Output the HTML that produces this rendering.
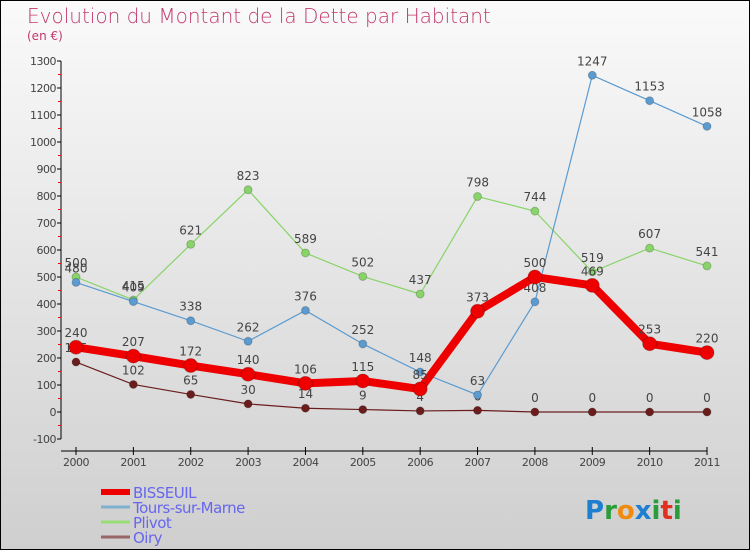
<!DOCTYPE html>
<html><head><meta charset="utf-8"><style>
body{margin:0;width:750px;height:550px;overflow:hidden}
#c{position:relative;width:748px;height:548px;border:1px solid #000;background:linear-gradient(#fafafa,#cfcfcf);font-family:"DejaVu Sans","Liberation Sans",sans-serif}
</style></head><body>
<div id="c">
<svg width="748" height="548" id="s">
<text x="26" y="22" font-size="20" fill="#c2396e" font-weight="300">Evolution du Montant de la Dette par Habitant</text>
<text x="26" y="39" font-size="12" fill="#c2396e">(en €)</text>
<g id="g"></g>
<text x="64" y="395" font-size="1" fill="none"></text>
</svg>
</div>
<script>
const years=["2000","2001","2002","2003","2004","2005","2006","2007","2008","2009","2010","2011"];
const bisseuil=[240,207,172,140,106,115,85,373,500,469,253,220];
const tours=[480,409,338,262,376,252,148,63,408,1247,1153,1058];
const plivot=[500,415,621,823,589,502,437,798,744,519,607,541];
const oiry=[185,102,65,30,14,9,4,6,0,0,0,0];
const yTicks=[-100,0,100,200,300,400,500,600,700,800,900,1000,1100,1200,1300];
const NS="http://www.w3.org/2000/svg",g=document.getElementById('g');
function X(i){return 75+i*(706-75)/11}
function Y(v){return 411-v*(411-60)/1300}
function el(t,a,txt){const e=document.createElementNS(NS,t);for(const k in a)e.setAttribute(k,a[k]);if(txt!==undefined)e.textContent=txt;g.appendChild(e);return e}
let e;
e=el('line',{x1:60,y1:Y(1300),x2:60,y2:Y(-100),stroke:'#000'});


e=el('line',{x1:60,y1:450,x2:706,y2:450,stroke:'#000'});


yTicks.forEach((v,i)=>{
 el('line',{x1:56,y1:Y(v),x2:60,y2:Y(v),stroke:'#000'});
 if(i<yTicks.length-1){e=el('line',{x1:57,y1:Y(v+50),x2:60,y2:Y(v+50),stroke:'#e00'});}
 e=el('text',{x:55,y:Y(v)+4,'font-size':11,fill:'#444','text-anchor':'end','letter-spacing':'-0.5'},v);
 
 
});
years.forEach((y,i)=>{
 el('line',{x1:X(i),y1:446,x2:X(i),y2:454,stroke:'#000'});
 e=el('text',{x:X(i),y:465,'font-size':11,fill:'#444','text-anchor':'middle','letter-spacing':'-0.5'},y);
 
 
});
function series(d,col,w,r,name){
 e=el('polyline',{points:d.map((v,i)=>X(i)+','+Y(v)).join(' '),fill:'none',stroke:col,'stroke-width':w});
 
 
 d.forEach((v,i)=>{
  e=el('circle',{cx:X(i),cy:Y(v),r:r,fill:col,stroke:'rgba(0,0,0,0.2)'});
  
  
  e=el('text',{x:X(i),y:Y(v)-10,'font-size':12,fill:'#444','text-anchor':'middle'},v);
  
  
 });
}
series(oiry,'#6b1d1d',1.2,4,'oiry');
series(plivot,'#88d468',1.2,4,'plivot');
series(tours,'#5b9bd0',1.2,4,'tours-sur-marne');
series(bisseuil,'#ee0000',8,7,'bisseuil');
const leg=[["BISSEUIL","#ee0000",6],["Tours-sur-Marne","#7fb0d0",3],["Plivot","#99dd77",3],["Oiry","#996666",3]];
leg.forEach((l,i)=>{
 const y=491+i*15;
 e=el('line',{x1:100,y1:y,x2:129,y2:y,stroke:l[1],'stroke-width':l[2]});
 
 
 e=el('text',{x:132,y:y+6,'font-size':15,fill:'#6666ee','letter-spacing':'-0.5'},l[0]);
 
 
});
const logo=[["P","#1e7fd0"],["r","#2a9d3a"],["o","#f08a10"],["x","#1e7fd0"],["i","#2a9d3a"],["t","#e03020"],["i","#2a9d3a"]];
let lx=584;
e=el('text',{x:lx,y:518,'font-size':26,'font-weight':'bold'});


logo.forEach(c=>{const t=document.createElementNS(NS,'tspan');t.setAttribute('fill',c[1]);t.textContent=c[0];e.appendChild(t);});
</script>
</body></html>
